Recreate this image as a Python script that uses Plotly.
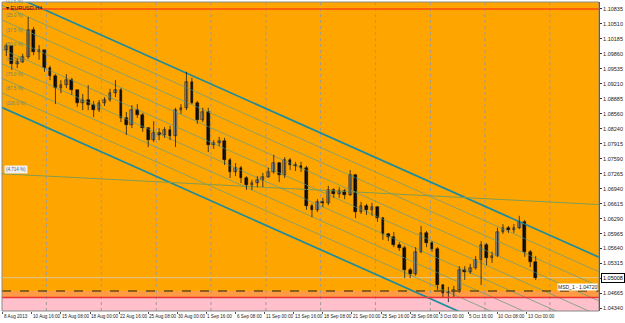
import plotly.graph_objects as go

# ---------------- data ----------------
symbol_title = "EURUSD,H4"

# one candle per 3 H4 bars
first_open = 1.0994
closes = [1.1003, 1.0964, 1.0968, 1.0979, 1.1038, 1.0990, 1.0994, 1.0955, 1.0938, 1.0912,
          1.0918, 1.0929, 1.0908, 1.0879, 1.0886, 1.0875, 1.0864, 1.0879, 1.0886, 1.0901,
          1.0908, 1.0847, 1.0832, 1.0864, 1.0853, 1.0825, 1.0799, 1.0814, 1.0810, 1.0821,
          1.0808, 1.0864, 1.0869, 1.0925, 1.0879, 1.0843, 1.0860, 1.0788, 1.0793, 1.0797,
          1.0756, 1.0730, 1.0739, 1.0717, 1.0702, 1.0706, 1.0713, 1.0719, 1.0730, 1.0749,
          1.0723, 1.0756, 1.0745, 1.0743, 1.0739, 1.0656, 1.0648, 1.0665, 1.0663, 1.0691,
          1.0682, 1.0689, 1.0680, 1.0723, 1.0643, 1.0656, 1.0648, 1.0654, 1.0630, 1.0596,
          1.0589, 1.0572, 1.0565, 1.0518, 1.0509, 1.0557, 1.0598, 1.0576, 1.0563, 1.0485,
          1.0468, 1.0470, 1.0474, 1.0518, 1.0513, 1.0522, 1.0539, 1.0572, 1.0544, 1.0548,
          1.0600, 1.0609, 1.0604, 1.0609, 1.0622, 1.0557, 1.0535, 1.05008]
highs = [1.1009, 1.1003, 1.0977, 1.0986, 1.1066, 1.1044, 1.1005, 1.0994, 1.0960, 1.0942,
         1.0929, 1.0942, 1.0934, 1.0908, 1.0899, 1.0918, 1.0884, 1.0886, 1.0892, 1.0910,
         1.0929, 1.0912, 1.0860, 1.0875, 1.0877, 1.0858, 1.0827, 1.0840, 1.0825, 1.0827,
         1.0830, 1.0869, 1.0877, 1.0947, 1.0934, 1.0884, 1.0869, 1.0869, 1.0799, 1.0806,
         1.0804, 1.0760, 1.0749, 1.0743, 1.0721, 1.0713, 1.0721, 1.0728, 1.0739, 1.0767,
         1.0752, 1.0762, 1.0760, 1.0752, 1.0752, 1.0743, 1.0661, 1.0671, 1.0674, 1.0700,
         1.0695, 1.0697, 1.0693, 1.0734, 1.0726, 1.0665, 1.0661, 1.0663, 1.0656, 1.0632,
         1.0598, 1.0600, 1.0578, 1.0570, 1.0522, 1.0567, 1.0613, 1.0602, 1.0580, 1.0567,
         1.0487, 1.0481, 1.0483, 1.0526, 1.0526, 1.0531, 1.0548, 1.0580, 1.0576, 1.0557,
         1.0609, 1.0617, 1.0613, 1.0617, 1.0635, 1.0626, 1.0561, 1.0548]
lows = [1.0981, 1.0951, 1.0955, 1.0966, 1.0975, 1.0983, 1.0973, 1.0947, 1.0929, 1.0877,
        1.0901, 1.0912, 1.0897, 1.0871, 1.0864, 1.0864, 1.0849, 1.0860, 1.0873, 1.0882,
        1.0892, 1.0838, 1.0810, 1.0825, 1.0847, 1.0817, 1.0784, 1.0795, 1.0799, 1.0804,
        1.0799, 1.0784, 1.0856, 1.0864, 1.0877, 1.0834, 1.0838, 1.0773, 1.0780, 1.0786,
        1.0745, 1.0717, 1.0721, 1.0706, 1.0691, 1.0691, 1.0697, 1.0697, 1.0717, 1.0726,
        1.0708, 1.0717, 1.0734, 1.0732, 1.0730, 1.0648, 1.0632, 1.0643, 1.0654, 1.0658,
        1.0674, 1.0674, 1.0671, 1.0678, 1.0630, 1.0639, 1.0637, 1.0635, 1.0622, 1.0583,
        1.0580, 1.0567, 1.0559, 1.0500, 1.0500, 1.0505, 1.0554, 1.0567, 1.0557, 1.0474,
        1.0457, 1.0448, 1.0457, 1.0468, 1.0496, 1.0509, 1.0518, 1.0485, 1.0528, 1.0533,
        1.0546, 1.0596, 1.0598, 1.0598, 1.0606, 1.0546, 1.0524, 1.0496]
opens = [first_open] + closes[:-1]
bars = [3 * k + 2 for k in range(len(closes))]

x_tick_labels = ["8 Aug 2013", "10 Aug 16:00", "15 Aug 08:00", "18 Aug 00:00", "22 Aug 16:00",
                 "25 Aug 08:00", "30 Aug 00:00", "1 Sep 16:00", "6 Sep 08:00", "11 Sep 00:00",
                 "13 Sep 16:00", "18 Sep 08:00", "21 Sep 00:00", "25 Sep 16:00", "28 Sep 08:00",
                 "3 Oct 00:00", "5 Oct 16:00", "10 Oct 08:00", "13 Oct 00:00"]
x_tick_bars = [16 * i for i in range(len(x_tick_labels))]

y_tick_labels = ["1.10835", "1.10510", "1.10185", "1.09860", "1.09535", "1.09210", "1.08885",
                 "1.08560", "1.08240", "1.07915", "1.07590", "1.07265", "1.06940", "1.06615",
                 "1.06290", "1.05965", "1.05640", "1.05315", "1.04990", "1.04665", "1.04340"]

grid_bars = [24, 54.2, 84.4, 114.5, 144.7, 174.8, 204.9, 235.1, 265.1, 300.8]

# channel (upper line anchors, width, levels in %)
channel_bars = [0, 320]
channel_upper = [1.1122, 1.0559]
channel_width = 0.0253
channel_levels = [0.0, 12.5, 25.0, 37.5, 50.0, 62.5, 75.0, 87.5, 100.0]

trend_bars = [0, 320]
trend_prices = [1.0726, 1.0661]
trend_label = "(4.714 %)"

top_level = 1.1083
msd_level = 1.0472
msd_label = "MSD_1 - 1.04720"
red_level = 1.0458

x_range = [-0.38, 327.8]
y_range = [1.04287, 1.10983]

FONT = "Liberation Sans Narrow, Liberation Sans, Arial"

# ---------------- figure ----------------
fig = go.Figure()

slope = (channel_upper[1] - channel_upper[0]) / (channel_bars[1] - channel_bars[0])
xa, xb = -2, 332
for lv in channel_levels:
    off = channel_width * lv / 100.0
    ya = channel_upper[0] + slope * (xa - channel_bars[0]) - off
    yb = channel_upper[0] + slope * (xb - channel_bars[0]) - off
    thick = lv in (0.0, 100.0)
    fig.add_trace(go.Scatter(x=[xa, xb], y=[ya, yb], mode="lines",
                             line=dict(color="#1d8c9e" if thick else "#6f9d7c",
                                       width=1.7 if thick else 0.8),
                             hoverinfo="skip", showlegend=False))

tslope = (trend_prices[1] - trend_prices[0]) / (trend_bars[1] - trend_bars[0])
fig.add_trace(go.Scatter(x=[xa, xb],
                         y=[trend_prices[0] + tslope * (xa - trend_bars[0]),
                            trend_prices[0] + tslope * (xb - trend_bars[0])],
                         mode="lines", line=dict(color="#7f9c55", width=1),
                         hoverinfo="skip", showlegend=False))

# wicks
wx, wy = [], []
for b, h, l in zip(bars, highs, lows):
    wx += [b, b, None]
    wy += [l, h, None]
fig.add_trace(go.Scatter(x=wx, y=wy, mode="lines", line=dict(color="#1a1a1a", width=0.8),
                         hoverinfo="skip", showlegend=False))
# bodies
body_base = [min(o, c) for o, c in zip(opens, closes)]
body_h = [max(abs(c - o), 0.00004) for o, c in zip(opens, closes)]
body_col = ["#8f8f8f" if c >= o else "#000000" for o, c in zip(opens, closes)]
fig.add_trace(go.Bar(x=bars, y=body_h, base=body_base, width=1.5,
                     marker=dict(color=body_col, line=dict(color="#111111", width=0.5)),
                     hoverinfo="skip", showlegend=False))

shapes = []
shapes.append(dict(type="rect", xref="paper", x0=0, x1=1, yref="y", y0=y_range[0] - 0.01, y1=red_level,
                   fillcolor="#FFC0CB", line=dict(width=0), layer="below"))
shapes.append(dict(type="rect", xref="paper", x0=0, x1=1, yref="y", y0=red_level, y1=msd_level,
                   fillcolor="#FF9A45", line=dict(width=0), layer="below"))
for gb in grid_bars:
    shapes.append(dict(type="line", xref="x", x0=gb, x1=gb, yref="paper", y0=0, y1=1,
                       line=dict(color="#9a9a9a", width=1, dash="dot"), layer="below"))
shapes.append(dict(type="line", xref="paper", x0=0, x1=1, yref="y", y0=closes[-1], y1=closes[-1],
                   line=dict(color="#d8d0c0", width=0.8), layer="below"))
shapes.append(dict(type="line", xref="paper", x0=0, x1=1, yref="y", y0=top_level, y1=top_level,
                   line=dict(color="#FF4A10", width=1.5)))
shapes.append(dict(type="line", xref="paper", x0=0, x1=1, yref="y", y0=red_level, y1=red_level,
                   line=dict(color="#F03030", width=1.5)))
shapes.append(dict(type="line", xref="paper", x0=0, x1=1, yref="y", y0=msd_level, y1=msd_level,
                   line=dict(color="#6b4a10", width=1.3, dash="dash")))
shapes.append(dict(type="rect", xref="paper", yref="paper", x0=0, x1=1, y0=0, y1=1,
                   line=dict(color="#8a8a8a", width=1)))

annotations = []
for lbl, b in zip(x_tick_labels, x_tick_bars):
    annotations.append(dict(x=b, xref="x", y=0, yref="paper", yanchor="top", xanchor="left",
                            yshift=-1, xshift=-1, text=lbl, showarrow=False,
                            font=dict(size=4.6, color="#222222", family=FONT)))
for lv in channel_levels[1:]:
    yv = channel_upper[0] + slope * (0 - channel_bars[0]) - channel_width * lv / 100.0
    annotations.append(dict(x=0.5, xref="x", y=yv, yref="y", xanchor="left", yanchor="bottom",
                            text="(%.1f %%)" % lv, showarrow=False,
                            font=dict(size=4.5, color="#5f8a70", family=FONT)))
annotations.append(dict(x=0.5, xref="x", y=trend_prices[0], yref="y", xanchor="left", yanchor="bottom",
                        text=trend_label, showarrow=False, bgcolor="#f0f0f0",
                        font=dict(size=4.5, color="#3a6a90", family=FONT)))
annotations.append(dict(x=0.004, xref="paper", y=1, yref="paper", xanchor="left", yanchor="top",
                        text="\u25be " + symbol_title, showarrow=False, yshift=-1,
                        font=dict(size=5.5, color="#202020", family=FONT)))
annotations.append(dict(x=0.998, xref="paper", y=msd_level, yref="y", xanchor="right", yanchor="bottom",
                        text=msd_label, showarrow=False, bgcolor="#ffffff", borderpad=0,
                        font=dict(size=5, color="#202020", family=FONT)))
annotations.append(dict(x=1, xref="paper", y=closes[-1], yref="y", xanchor="left", yanchor="middle",
                        xshift=2, text="%.5f" % closes[-1], showarrow=False, bgcolor="#ffffff",
                        bordercolor="#000000", borderwidth=1, borderpad=1,
                        font=dict(size=5.5, color="#000000", family=FONT)))

fig.update_layout(
    width=625, height=323,
    margin=dict(l=2, r=24, t=2, b=12),
    paper_bgcolor="#ffffff", plot_bgcolor="#FFA500",
    shapes=shapes, annotations=annotations,
    showlegend=False, bargap=0,
    xaxis=dict(range=x_range, showgrid=False, zeroline=False,
               tickvals=x_tick_bars, ticktext=[""] * len(x_tick_bars), ticks="outside",
               ticklen=2, tickcolor="#555555", showline=False),
    yaxis=dict(range=y_range, side="right", showgrid=False, zeroline=False,
               tickvals=[float(t) for t in y_tick_labels], ticktext=y_tick_labels,
               ticks="outside", ticklen=2, tickcolor="#333333",
               tickfont=dict(size=5.5, color="#222222", family="Liberation Sans"),
               showline=True, linecolor="#333333", linewidth=1),
)

fig.write_html("out.html")
